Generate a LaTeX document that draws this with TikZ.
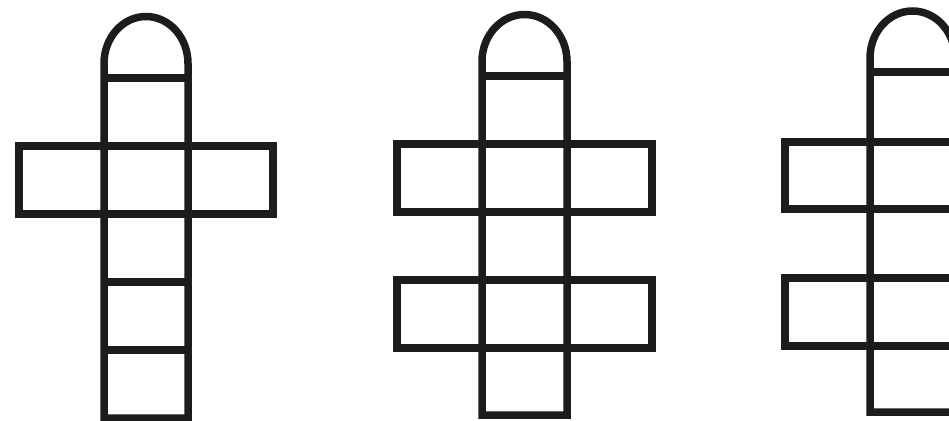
\documentclass[tikz,border=0pt]{standalone}
\definecolor{chalk}{HTML}{1C1C1C}
\begin{document}
\begin{tikzpicture}[x=1pt, y=1pt,
      court/.style={draw=chalk, line width=7.5pt, line join=miter}]
   \useasboundingbox (0,0) rectangle (949,420);
   \clip (0,0) rectangle (949,420);
   % First court: column with a single cross bar
   \draw[court] (104,2) -- (104,356.5)
      arc[start angle=180, end angle=0, x radius=42, y radius=47]
      -- (188,2) -- cycle;
   \draw[court] (19,206) rectangle (273,274);
   \foreach \y in {342,138,70}
      \draw[court] (104,\y) -- (188,\y);
   % Second court: two cross bars
   \draw[court] (482,5) -- (482,358.5)
      arc[start angle=180, end angle=0, x radius=42.5, y radius=47]
      -- (567,5) -- cycle;
   \draw[court] (397,208) rectangle (652,276);
   \draw[court] (397,72) rectangle (652,140);
   \draw[court] (482,344) -- (567,344);
   % Third court: cut at the right edge
   \draw[court] (870,8) -- (870,362)
      arc[start angle=180, end angle=0, x radius=42.5, y radius=47]
      -- (955,8) -- cycle;
   \draw[court] (785,211) rectangle (1040,278);
   \draw[court] (785,74) rectangle (1040,142);
   \draw[court] (870,348) -- (955,348);
\end{tikzpicture}
\end{document}
